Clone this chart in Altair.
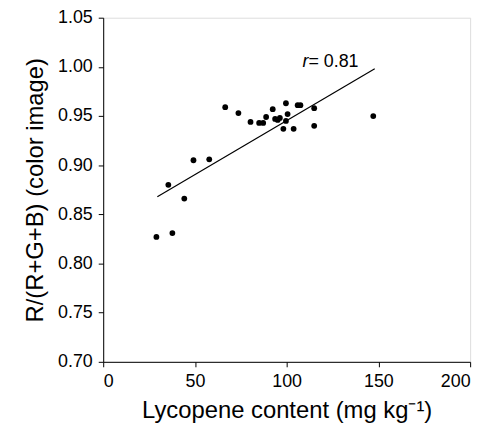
import altair as alt
import pandas as pd

# Data
lycopene = [29.0, 37.7, 35.5, 44.2, 49.2, 57.8, 66.5, 73.7, 80.3, 85.0, 87.2, 88.8,
            92.4, 93.7, 95.1, 96.3, 99.6, 98.2, 99.6, 100.5, 103.8, 106.0, 107.5,
            115.0, 115.0, 147.2]
ratio = [0.827, 0.831, 0.880, 0.866, 0.905, 0.906, 0.959, 0.953, 0.944, 0.943, 0.943, 0.949,
         0.957, 0.947, 0.946, 0.948, 0.963, 0.937, 0.945, 0.952, 0.937, 0.961, 0.961,
         0.958, 0.940, 0.950]

fit_x = [29.5, 148.0]
fit_y = [0.868, 0.998]

x_ticks = [0, 50, 100, 150, 200]
y_ticks = [0.70, 0.75, 0.80, 0.85, 0.90, 0.95, 1.00, 1.05]

ann_x = [108.6]
ann_y = [1.0]

pts = pd.DataFrame({"x": lycopene, "y": ratio})
fit = pd.DataFrame({"x": fit_x, "y": fit_y})
ann = pd.DataFrame({"x": ann_x, "y": ann_y})

FONT = "Liberation Sans"

xscale = alt.Scale(domain=[0, 200], nice=False, zero=False)
yscale = alt.Scale(domain=[0.70, 1.05], nice=False, zero=False)

xaxis = alt.Axis(values=x_ticks, format="d", title="Lycopene content (mg kg\u207b\u00b9)",
                 labelFontSize=18, titleFontSize=24, labelFont=FONT, titleFont=FONT,
                 titleFontWeight="normal", labelColor="black", titleColor="black",
                 domainColor="black", tickColor="black", tickSize=5, grid=False,
                 labelPadding=6, titlePadding=8)
yaxis = alt.Axis(values=y_ticks, format=".2f", title="R/(R+G+B) (color image)",
                 labelFontSize=18, titleFontSize=24, labelFont=FONT, titleFont=FONT,
                 titleFontWeight="normal", labelColor="black", titleColor="black",
                 domainColor="black", tickColor="black", tickSize=5, grid=False,
                 labelPadding=6, titlePadding=10)

points = alt.Chart(pts).mark_circle(color="black", opacity=1, size=34).encode(
    x=alt.X("x:Q", scale=xscale, axis=xaxis),
    y=alt.Y("y:Q", scale=yscale, axis=yaxis),
)

line = alt.Chart(fit).mark_line(color="black", strokeWidth=1.2).encode(
    x=alt.X("x:Q", scale=xscale),
    y=alt.Y("y:Q", scale=yscale),
)

r_txt = alt.Chart(ann).mark_text(text="r", fontStyle="italic", fontSize=18, font=FONT,
                                 align="left", baseline="alphabetic", color="black").encode(
    x=alt.X("x:Q", scale=xscale), y=alt.Y("y:Q", scale=yscale))
val_txt = alt.Chart(ann).mark_text(text="= 0.81", fontSize=18, font=FONT, dx=6,
                                   align="left", baseline="alphabetic", color="black").encode(
    x=alt.X("x:Q", scale=xscale), y=alt.Y("y:Q", scale=yscale))

chart = alt.layer(points, line, r_txt, val_txt).properties(
    width=370, height=347,
    autosize=alt.AutoSizeParams(type="none"),
    padding={"left": 96, "top": 8, "right": 16, "bottom": 70},
).configure_view(stroke="black", strokeWidth=1).configure(background="white")

chart.save("out.html", embed_options={"renderer": "svg", "actions": False})
